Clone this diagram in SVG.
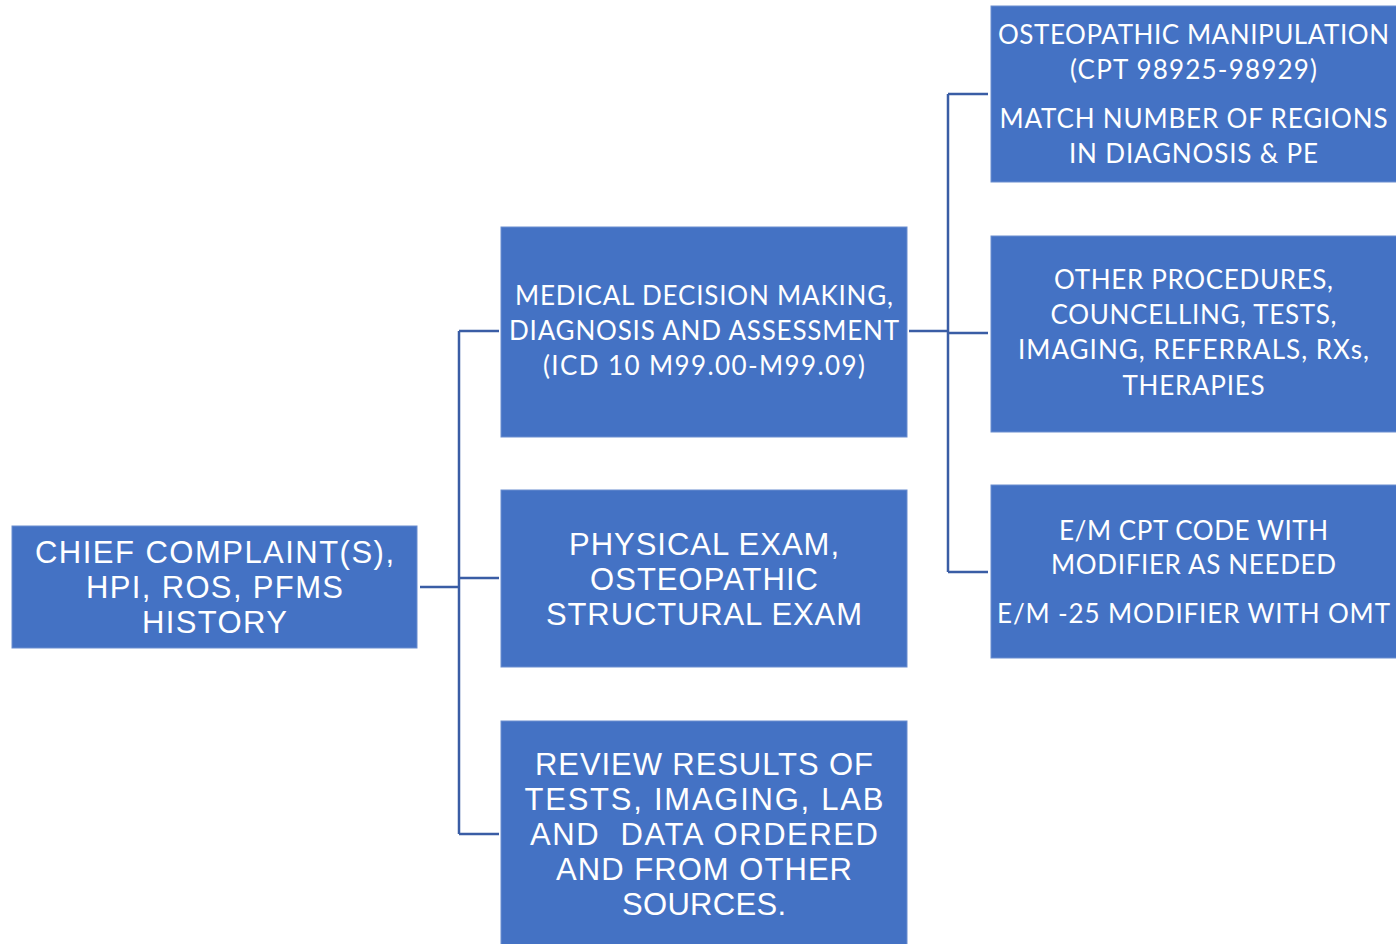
<svg xmlns="http://www.w3.org/2000/svg" width="1396" height="944" viewBox="0 0 1396 944">
<style>
.box{fill:#4472C4;stroke:#6A8ED0;stroke-width:1}
.conn{fill:none;stroke:#3A5DA5;stroke-width:2.5}
.a{font-family:"Liberation Sans",Arial,sans-serif;font-size:31px;fill:#fff;text-anchor:middle}
.c{font-family:Lato,"Open Sans",sans-serif;font-size:26px;fill:#fff;text-anchor:middle}
</style>
<rect width="1396" height="944" fill="#fff"/>
<g id="connectors">
<path class="conn" d="M420 587 H459 M459 331 V834 M459 331 H499 M459 578 H499 M459 834 H499"/>
<path class="conn" d="M909 331 H948 M948 94 V572 M948 94 H988 M948 333 H988 M948 572 H988"/>
</g>
<g id="chief">
<rect class="box" x="12" y="526" width="405" height="122"/>
<text class="a"><tspan x="214.5" y="563" textLength="359">CHIEF COMPLAINT(S),</tspan><tspan x="214.5" y="598" textLength="257">HPI, ROS, PFMS</tspan><tspan x="214.5" y="633" textLength="145">HISTORY</tspan></text>
</g>
<g id="mdm">
<rect class="box" x="501" y="227" width="406" height="210"/>
<text class="c"><tspan x="704" y="305" textLength="378">MEDICAL DECISION MAKING,</tspan><tspan x="704" y="340" textLength="390">DIAGNOSIS AND ASSESSMENT</tspan><tspan x="704" y="375" textLength="322">(ICD 10 M99.00-M99.09)</tspan></text>
</g>
<g id="pe">
<rect class="box" x="501" y="490" width="406" height="177"/>
<text class="a"><tspan x="704" y="555" textLength="270">PHYSICAL EXAM,</tspan><tspan x="704" y="590" textLength="228">OSTEOPATHIC</tspan><tspan x="704" y="625" textLength="316">STRUCTURAL EXAM</tspan></text>
</g>
<g id="review">
<rect class="box" x="501" y="721" width="406" height="230"/>
<text class="a" xml:space="preserve"><tspan x="704" y="775" textLength="338">REVIEW RESULTS OF</tspan><tspan x="704" y="810" textLength="359">TESTS, IMAGING, LAB</tspan><tspan x="704" y="845" textLength="348">AND  DATA ORDERED</tspan><tspan x="704" y="880" textLength="296">AND FROM OTHER</tspan><tspan x="704" y="915" textLength="164">SOURCES.</tspan></text>
</g>
<g id="omt">
<rect class="box" x="991" y="6" width="410" height="176"/>
<text class="c"><tspan x="1193.5" y="44" textLength="391">OSTEOPATHIC MANIPULATION</tspan><tspan x="1193.5" y="79" textLength="247">(CPT 98925-98929)</tspan><tspan x="1193.5" y="128" textLength="388">MATCH NUMBER OF REGIONS</tspan><tspan x="1193.5" y="163" textLength="249">IN DIAGNOSIS &amp; PE</tspan></text>
</g>
<g id="other">
<rect class="box" x="991" y="236" width="410" height="196"/>
<text class="c"><tspan x="1193.5" y="289" textLength="279">OTHER PROCEDURES,</tspan><tspan x="1193.5" y="324" textLength="286">COUNCELLING, TESTS,</tspan><tspan x="1193.5" y="359" textLength="351">IMAGING, REFERRALS, RXs,</tspan><tspan x="1193.5" y="395" textLength="142">THERAPIES</tspan></text>
</g>
<g id="em">
<rect class="box" x="991" y="485" width="410" height="173"/>
<text class="c"><tspan x="1193.5" y="540" textLength="269">E/M CPT CODE WITH</tspan><tspan x="1193.5" y="574" textLength="285">MODIFIER AS NEEDED</tspan><tspan x="1193.5" y="623" textLength="393">E/M -25 MODIFIER WITH OMT</tspan></text>
</g>
</svg>
